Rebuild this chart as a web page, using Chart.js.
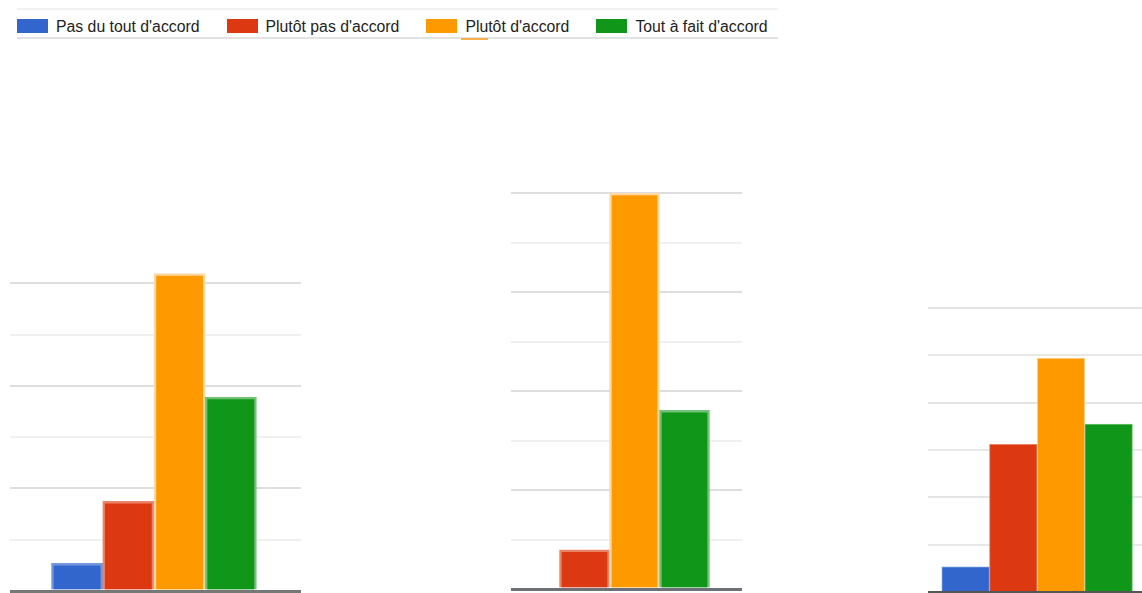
<!DOCTYPE html>
<html>
<head>
<meta charset="utf-8">
<script src="https://cdn.jsdelivr.net/npm/chart.js"></script>
<style>
  html, body { margin: 0; padding: 0; background: #fff; }
  body { width: 1142px; height: 593px; position: relative; overflow: hidden; font-family: "Liberation Sans", Arial, sans-serif; }
  .cv { position: absolute; }
  #legendTopLine { position: absolute; left: 17px; top: 8px; width: 761px; height: 2px; background: #f1f1f1; }
  #legendBottomLine { position: absolute; left: 17px; top: 37px; width: 761px; height: 2px; background: #e2e2e2; }
  #legendMark { position: absolute; left: 461px; top: 38px; width: 27px; height: 2px; background: #f7b04c; }
  #legend { position: absolute; left: 17px; top: 17px; display: flex; align-items: flex-start; }
  .item { display: flex; align-items: flex-start; margin-right: 27px; }
  .sw { width: 31px; height: 14px; margin-top: 2px; margin-right: 8px; }
  .lbl { font-size: 15.8px; line-height: 19px; color: #222; white-space: nowrap; }
</style>
</head>
<body>
<div id="legendTopLine"></div>
<div id="legendBottomLine"></div>
<div id="legendMark"></div>
<div id="legend"></div>

<canvas id="c1" class="cv" style="left:10px; top:264px;" width="291" height="331"></canvas>
<canvas id="c2" class="cv" style="left:511px; top:189px;" width="231" height="404"></canvas>
<canvas id="c3" class="cv" style="left:928px; top:304px;" width="214" height="292"></canvas>

<script>
// ---- Data ----
const categories = ["Pas du tout d'accord", "Plutôt pas d'accord", "Plutôt d'accord", "Tout à fait d'accord"];
const colors = ["#3366cc", "#dc3912", "#ff9900", "#109618"];
const edgeColors = ["#7396dc", "#e98469", "#ffd9a3", "#72c277"];

// values read in gridline units (no axis labels shown in the source)
const chart1Values = [0.54, 1.75, 6.19, 3.78];
const chart2Values = [0, 0.79, 8.0, 3.61];
const chart3Values = [0.53, 3.12, 4.94, 3.55];

// ---- Legend (HTML) ----
const legend = document.getElementById('legend');
categories.forEach((c, i) => {
  const it = document.createElement('div'); it.className = 'item';
  const sw = document.createElement('div'); sw.className = 'sw'; sw.style.background = colors[i];
  const lb = document.createElement('div'); lb.className = 'lbl'; lb.textContent = c;
  it.appendChild(sw); it.appendChild(lb); legend.appendChild(it);
});

function makeChart(id, values, cfg) {
  const data = values.map((v, i) => ({ x: i, y: v }));
  return new Chart(document.getElementById(id), {
    type: 'bar',
    data: {
      datasets: [{
        label: 'réponses',
        data: data,
        backgroundColor: colors,
        borderColor: edgeColors,
        borderWidth: cfg.border,
        borderSkipped: 'start',
        barPercentage: 1.0,
        categoryPercentage: 1.0
      }]
    },
    options: {
      responsive: false,
      animation: false,
      devicePixelRatio: 1,
      layout: { padding: { top: 4, bottom: 4, left: 0, right: 0 } },
      plugins: { legend: { display: false }, tooltip: { enabled: false }, title: { display: false } },
      scales: {
        x: {
          type: 'linear',
          display: false,
          offset: false,
          min: cfg.xmin, max: cfg.xmax,
          ticks: { stepSize: 1, includeBounds: false },
          grid: { display: false, offset: false }
        },
        y: {
          min: 0, max: cfg.ymax,
          border: { display: false },
          ticks: { display: false, stepSize: 1, includeBounds: false },
          grid: {
            drawTicks: false,
            color: ctx => ctx.tick.value === 0 ? cfg.baseColor : (ctx.tick.value % 2 === 0 ? cfg.major : cfg.minor),
            lineWidth: ctx => ctx.tick.value === 0 ? cfg.baseWidth : 2
          }
        }
      }
    }
  });
}

makeChart('c1', chart1Values, { xmin: -1.31, xmax: 4.37, ymax: 6.3, border: 2.5, baseColor: '#777777', baseWidth: 3, major: '#dedede', minor: '#f0f0f0' });
makeChart('c2', chart2Values, { xmin: -0.47, xmax: 4.15, ymax: 8, border: 2.5, baseColor: '#6e7078', baseWidth: 3, major: '#dedede', minor: '#f0f0f0' });
makeChart('c3', chart3Values, { xmin: -0.79, xmax: 3.70, ymax: 6, border: 1, baseColor: '#555555', baseWidth: 2, major: '#e4e4e4', minor: '#e8e8e8' });
</script>
</body>
</html>
